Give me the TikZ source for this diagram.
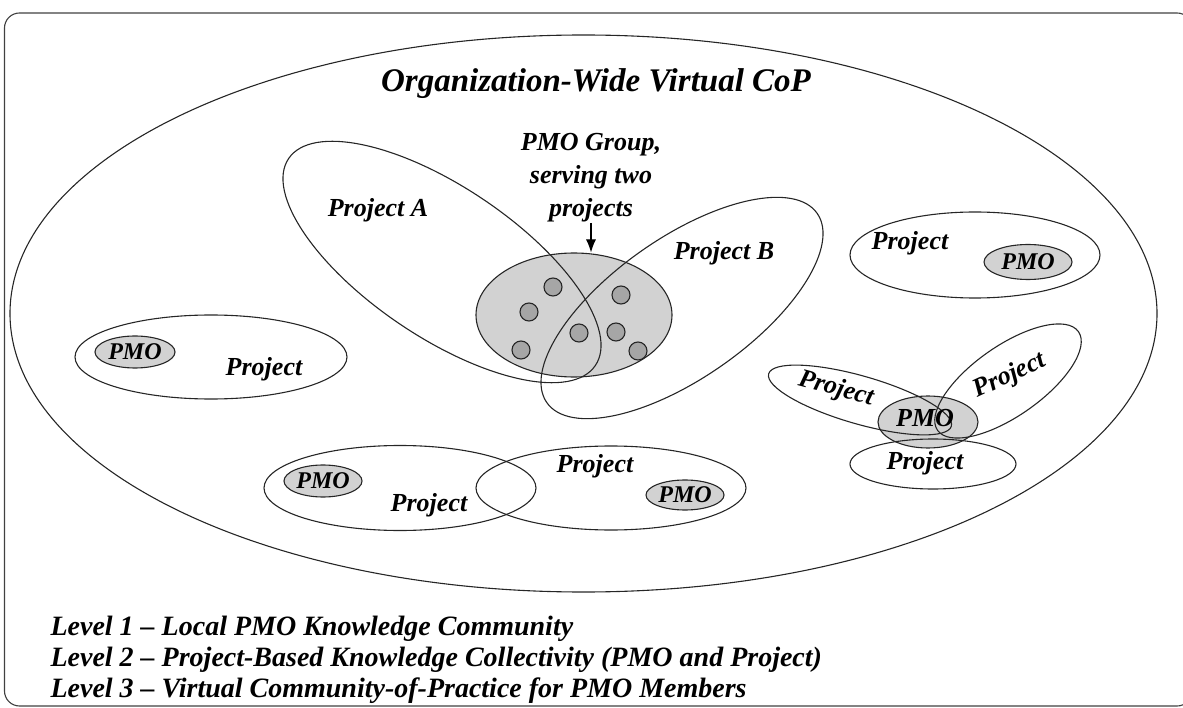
\documentclass[tikz,border=0pt]{standalone}
\usepackage{fontspec}
\setmainfont{Liberation Serif}
\usetikzlibrary{shapes.geometric, positioning, arrows.meta}
\tikzset{
>={Latex[length=13pt,width=10pt]}, % filled arrow head for the pointer
frame/.style={draw=black!75, rounded corners=15pt, overlay}, % the box round everything, cut off at the right
proj/.style={draw=black!85, ellipse, inner sep=0pt}, % outline of a project or of the CoP
pmo/.style={draw=black!85, fill=gray!35, ellipse, inner sep=0pt}, % grey PMO blob
member/.style={draw=black!85, fill=gray!70, circle, minimum size=18pt, inner sep=0pt}, % one PMO member
lbl/.style={font=\fontsize{26}{33}\selectfont\bfseries\itshape, inner sep=0pt}, % project labels
pmolbl/.style={font=\fontsize{24}{28}\selectfont\bfseries\itshape}, % PMO text
title/.style={font=\fontsize{33}{40}\selectfont\bfseries\itshape, anchor=base, inner sep=0pt},
legend/.style={font=\fontsize{28}{32}\selectfont\bfseries\itshape, anchor=base west, inner sep=0pt},
}
\begin{document}
\begin{tikzpicture}[x=1pt, y=-1pt, line width=1.1pt]
\useasboundingbox (0,0) rectangle (1183,708);
\draw[frame] (4.5,13) rectangle (1192,706);
% level 3
\node[proj, minimum width=1147pt, minimum height=557pt] (cop) at (583.5,313.5) {};
\node[title] (coplbl) at (596,92) {Organization-Wide Virtual CoP};
% pmo group serving two projects
\node[pmo, minimum width=196pt, minimum height=124pt] (grp) at (574,315) {};
\node[proj, minimum width=370pt, minimum height=150pt, rotate=-34] (prjA) at (442,262) {};
\node[proj, minimum width=330pt, minimum height=140pt, rotate=35] (prjB) at (682,308) {};
\node[member] (m1) at (553,287) {};
\node[member] (m2) at (529,312) {};
\node[member] (m3) at (621,295) {};
\node[member] (m4) at (579,333) {};
\node[member] (m5) at (616,332) {};
\node[member] (m6) at (521,350) {};
\node[member] (m7) at (638,351) {};
\node[lbl] (prjAlbl) at (378,210) {Project A};
\node[lbl] (prjBlbl) at (724,253) {Project B};
\node[lbl, align=center] (grplbl) at (591,178) {PMO Group,\\serving two\\projects};
\draw[->] (grplbl.south) -- (grplbl.south |- grp.north);
% level 1, left
\node[proj, minimum width=272pt, minimum height=84pt] (prj1) at (211,357) {};
\node[pmo, pmolbl, minimum width=80pt, minimum height=32pt] (pmo1) at (135,352) {PMO};
\node[lbl] (prj1lbl) at (264,369) {Project};
% level 1, upper right
\node[proj, minimum width=250pt, minimum height=86pt] (prj2) at (975,255) {};
\node[pmo, pmolbl, minimum width=88pt, minimum height=35pt] (pmo2) at (1028,262) {PMO};
\node[lbl] (prj2lbl) at (910,243) {Project};
% level 2, two projects side by side
\node[proj, minimum width=272pt, minimum height=85pt] (prj3) at (400,488) {};
\node[proj, minimum width=270pt, minimum height=84pt] (prj4) at (611,488) {};
\node[pmo, pmolbl, minimum width=78pt, minimum height=32pt] (pmo3) at (323,481) {PMO};
\node[pmo, pmolbl, minimum width=78pt, minimum height=30pt] (pmo4) at (685,495) {PMO};
\node[lbl] (prj3lbl) at (429,505) {Project};
\node[lbl] (prj4lbl) at (595,466) {Project};
% one PMO, three projects
\node[pmo, minimum width=100pt, minimum height=52pt] (pmo5) at (928,422) {};
\node[proj, minimum width=190pt, minimum height=48pt, rotate=-16] (prj5) at (860,400) {};
\node[proj, minimum width=172pt, minimum height=70pt, rotate=35] (prj6) at (1008,381) {};
\node[proj, minimum width=166pt, minimum height=50pt] (prj7) at (933,464) {};
\node[lbl, rotate=-15] (prj5lbl) at (836,389) {Project};
\node[lbl, rotate=25] (prj6lbl) at (1010,376) {Project};
\node[lbl] (prj7lbl) at (925,463) {Project};
\node[lbl] (pmo5lbl) at (925,418) {PMO};
% legend
\node[legend] (lvl1) at (50,635) {Level 1 -- Local PMO Knowledge Community};
\node[legend] (lvl2) at (50,666) {Level 2 -- Project-Based Knowledge Collectivity (PMO and Project)};
\node[legend] (lvl3) at (50,697) {Level 3 -- Virtual Community-of-Practice for PMO Members};
\end{tikzpicture}
\end{document}
